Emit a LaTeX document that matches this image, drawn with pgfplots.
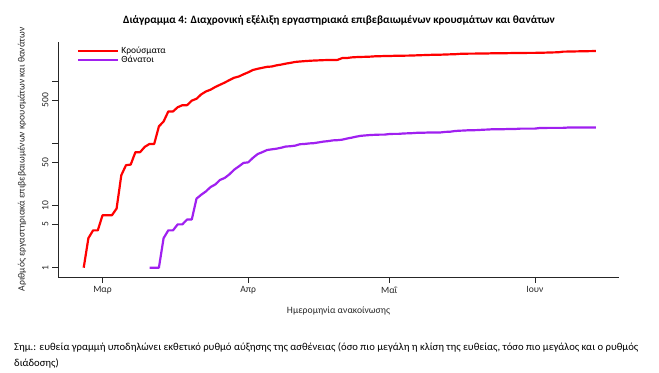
\documentclass[border=0pt]{standalone}
\usepackage{pgfplots}
\pgfplotsset{compat=1.18}
\usepackage{fontspec}
\setmainfont{Carlito}
\definecolor{rpurple}{RGB}{160,32,240}
\begin{document}
\begin{tikzpicture}
\path[use as bounding box] (0,0) rectangle (659bp,373bp);
\begin{axis}[
  at={(58bp,96bp)}, anchor=south west,
  scale only axis, width=561bp, height=235bp,
  xmin=-9.47, xmax=109.9,
  ymode=log, ymin=0.708, ymax=4365,
  axis x line*=bottom, axis y line*=left,
  axis line style={black!85, line width=0.8pt, -},
  tick style={black!85, line width=0.7pt},
  tick align=outside, major tick length=6bp,
  yminorticks=false, xminorticks=false,
  xtick={0,31,61,92}, xticklabels={Μαρ,Απρ,Μαΐ,Ιουν},
  ytick={1,5,10,50,100,500,1000}, yticklabels={1,5,10,50,,500,},
  ticklabel style={font=\fontsize{9.6}{11}\selectfont, text=black!85},
  yticklabel style={rotate=90, anchor=south},
  xlabel={Ημερομηνία ανακοίνωσης},
  ylabel={Αριθμός εργαστηριακά επιβεβαιωμένων κρουσμάτων και θανάτων},
  label style={font=\fontsize{9.7}{11}\selectfont, text=black!85},
  xlabel style={at={(axis description cs:0.5,-0.1447)}, anchor=center},
  ylabel style={at={(axis description cs:-0.0642,0.5)}, anchor=center},
  legend style={at={(axis description cs:0.034,0.99)}, anchor=north west, draw=none, fill=none,
    font=\fontsize{9.5}{10}\selectfont, row sep=-2.5pt, inner sep=0pt},
  legend cell align=left,
  legend image code/.code={\draw[#1] (0bp,0bp) -- (40bp,0bp);},
]
\addplot[red, line width=2.2pt, line join=round] table {
x y
-4 1
-3 3
-2 4
-1 4
0 7
1 7
2 7
3 9
4 31
5 45
6 46
7 73
8 73
9 89
10 99
11 99
12 190
13 228
14 331
15 331
16 387
17 418
18 418
19 495
20 530
21 624
22 695
23 743
24 821
25 892
26 966
27 1061
28 1156
29 1212
30 1314
31 1415
32 1544
33 1613
34 1673
35 1735
36 1755
37 1832
38 1884
39 1955
40 2011
41 2081
42 2114
43 2145
44 2170
45 2192
46 2207
47 2224
48 2235
49 2235
50 2245
51 2401
52 2408
53 2463
54 2490
55 2506
56 2517
57 2534
58 2566
59 2576
60 2591
61 2591
62 2612
63 2620
64 2626
65 2632
66 2642
67 2663
68 2678
69 2691
70 2710
71 2716
72 2726
73 2744
74 2760
75 2770
76 2810
77 2819
78 2834
79 2836
80 2840
81 2850
82 2853
83 2873
84 2876
85 2878
86 2882
87 2892
88 2903
89 2906
90 2909
91 2915
92 2917
93 2918
94 2937
95 2952
96 2967
97 2980
98 3049
99 3058
100 3068
101 3083
102 3088
103 3102
104 3112
105 3121
};
\addlegendentry{Κρούσματα}
\addplot[rpurple, line width=2.2pt, line join=round] table {
x y
10 1
11 1
12 1
13 3
14 4
15 4
16 5
17 5
18 6
19 6
20 13
21 15
22 17
23 20
24 22
25 26
26 28
27 32
28 38
29 43
30 49
31 50
32 59
33 68
34 73
35 79
36 81
37 83
38 86
39 90
40 91
41 93
42 98
43 99
44 101
45 102
46 105
47 108
48 110
49 113
50 114
51 116
52 121
53 125
54 130
55 134
56 136
57 138
58 139
59 140
60 140
61 143
62 144
63 144
64 146
65 147
66 148
67 150
68 150
69 151
70 151
71 151
72 152
73 155
74 156
75 160
76 162
77 163
78 165
79 165
80 166
81 168
82 169
83 171
84 171
85 171
86 172
87 173
88 173
89 175
90 175
91 175
92 175
93 179
94 179
95 180
96 180
97 180
98 180
99 182
100 182
101 182
102 183
103 183
104 183
105 183
};
\addlegendentry{Θάνατοι}
\end{axis}
\node[font=\bfseries\fontsize{11.2}{13}\selectfont, anchor=center] at (339bp,353bp) {Διάγραμμα 4: Διαχρονική εξέλιξη εργαστηριακά επιβεβαιωμένων κρουσμάτων και θανάτων};
\node[font=\fontsize{10.7}{15.5}\selectfont, anchor=north west, align=left, inner sep=0pt] at (14bp,30bp) {Σημ.: ευθεία γραμμή υποδηλώνει εκθετικό ρυθμό αύξησης της ασθένειας (όσο πιο μεγάλη η κλίση της ευθείας, τόσο πιο μεγάλος και ο ρυθμός\\διάδοσης)};
\end{tikzpicture}
\end{document}
